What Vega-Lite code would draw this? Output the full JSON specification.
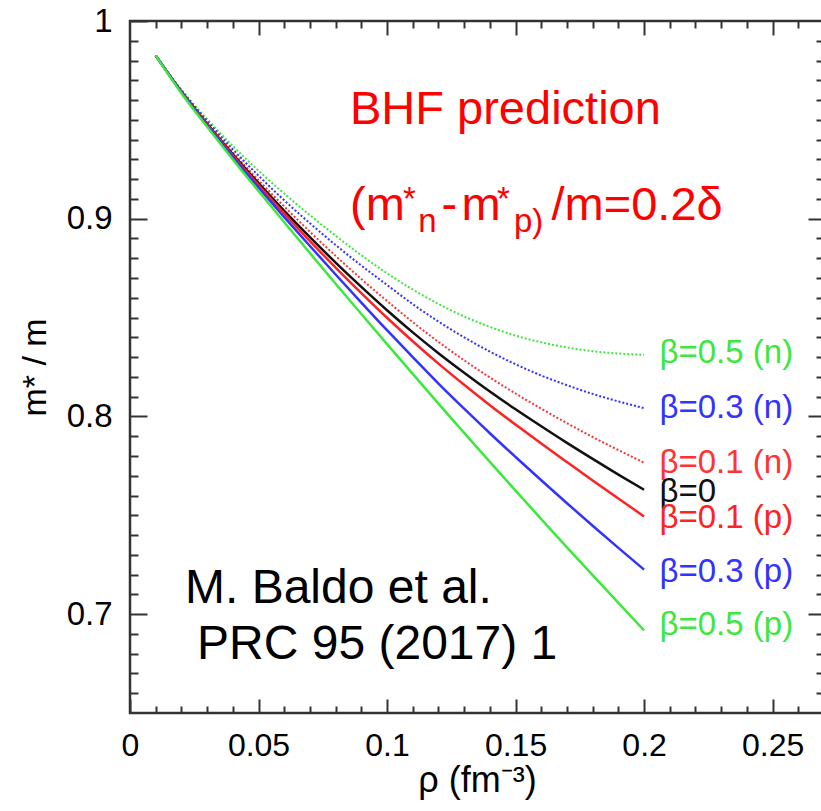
{
  "$schema": "https://vega.github.io/schema/vega-lite/v6.json",
  "width": 694,
  "height": 692,
  "autosize": "none",
  "padding": {"left": 130, "top": 21, "right": 0, "bottom": 98},
  "background": "white",
  "config": {
    "view": {"stroke": "#333", "strokeWidth": 2.5},
    "axis": {"domain": false, "grid": false, "tickColor": "#333", "tickWidth": 2, "labelColor": "#000", "titleColor": "#000", "titleFontWeight": "normal", "labelFlush": false, "labelOverlap": false}
  },
  "datasets": {
    "curves": [
      {"rho":0.01,"m":0.9825,"s":"0.5n"},{"rho":0.02,"m":0.9653,"s":"0.5n"},{"rho":0.03,"m":0.9504,"s":"0.5n"},{"rho":0.04,"m":0.9368,"s":"0.5n"},{"rho":0.05,"m":0.9243,"s":"0.5n"},{"rho":0.06,"m":0.9127,"s":"0.5n"},{"rho":0.07,"m":0.9018,"s":"0.5n"},{"rho":0.08,"m":0.8914,"s":"0.5n"},{"rho":0.09,"m":0.8815,"s":"0.5n"},{"rho":0.10,"m":0.8724,"s":"0.5n"},{"rho":0.11,"m":0.8642,"s":"0.5n"},{"rho":0.12,"m":0.8569,"s":"0.5n"},{"rho":0.13,"m":0.8506,"s":"0.5n"},{"rho":0.14,"m":0.8453,"s":"0.5n"},{"rho":0.15,"m":0.8409,"s":"0.5n"},{"rho":0.16,"m":0.8375,"s":"0.5n"},{"rho":0.17,"m":0.8349,"s":"0.5n"},{"rho":0.18,"m":0.8330,"s":"0.5n"},{"rho":0.19,"m":0.8318,"s":"0.5n"},{"rho":0.20,"m":0.8312,"s":"0.5n"},
      {"rho":0.01,"m":0.9825,"s":"0.3n"},{"rho":0.02,"m":0.9648,"s":"0.3n"},{"rho":0.03,"m":0.9494,"s":"0.3n"},{"rho":0.04,"m":0.9351,"s":"0.3n"},{"rho":0.05,"m":0.9218,"s":"0.3n"},{"rho":0.06,"m":0.9093,"s":"0.3n"},{"rho":0.07,"m":0.8977,"s":"0.3n"},{"rho":0.08,"m":0.8867,"s":"0.3n"},{"rho":0.09,"m":0.8763,"s":"0.3n"},{"rho":0.10,"m":0.8665,"s":"0.3n"},{"rho":0.11,"m":0.8568,"s":"0.3n"},{"rho":0.12,"m":0.8480,"s":"0.3n"},{"rho":0.13,"m":0.8400,"s":"0.3n"},{"rho":0.14,"m":0.8328,"s":"0.3n"},{"rho":0.15,"m":0.8264,"s":"0.3n"},{"rho":0.16,"m":0.8207,"s":"0.3n"},{"rho":0.17,"m":0.8158,"s":"0.3n"},{"rho":0.18,"m":0.8114,"s":"0.3n"},{"rho":0.19,"m":0.8076,"s":"0.3n"},{"rho":0.20,"m":0.8042,"s":"0.3n"},
      {"rho":0.01,"m":0.9825,"s":"0.1n"},{"rho":0.02,"m":0.9645,"s":"0.1n"},{"rho":0.03,"m":0.9486,"s":"0.1n"},{"rho":0.04,"m":0.9336,"s":"0.1n"},{"rho":0.05,"m":0.9195,"s":"0.1n"},{"rho":0.06,"m":0.9062,"s":"0.1n"},{"rho":0.07,"m":0.8934,"s":"0.1n"},{"rho":0.08,"m":0.8812,"s":"0.1n"},{"rho":0.09,"m":0.8695,"s":"0.1n"},{"rho":0.10,"m":0.8584,"s":"0.1n"},{"rho":0.11,"m":0.8477,"s":"0.1n"},{"rho":0.12,"m":0.8377,"s":"0.1n"},{"rho":0.13,"m":0.8284,"s":"0.1n"},{"rho":0.14,"m":0.8197,"s":"0.1n"},{"rho":0.15,"m":0.8116,"s":"0.1n"},{"rho":0.16,"m":0.8039,"s":"0.1n"},{"rho":0.17,"m":0.7966,"s":"0.1n"},{"rho":0.18,"m":0.7896,"s":"0.1n"},{"rho":0.19,"m":0.7830,"s":"0.1n"},{"rho":0.20,"m":0.7766,"s":"0.1n"},
      {"rho":0.01,"m":0.9825,"s":"0"},{"rho":0.02,"m":0.9643,"s":"0"},{"rho":0.03,"m":0.9480,"s":"0"},{"rho":0.04,"m":0.9326,"s":"0"},{"rho":0.05,"m":0.9180,"s":"0"},{"rho":0.06,"m":0.9040,"s":"0"},{"rho":0.07,"m":0.8907,"s":"0"},{"rho":0.08,"m":0.8778,"s":"0"},{"rho":0.09,"m":0.8655,"s":"0"},{"rho":0.10,"m":0.8537,"s":"0"},{"rho":0.11,"m":0.8425,"s":"0"},{"rho":0.12,"m":0.8320,"s":"0"},{"rho":0.13,"m":0.8221,"s":"0"},{"rho":0.14,"m":0.8126,"s":"0"},{"rho":0.15,"m":0.8036,"s":"0"},{"rho":0.16,"m":0.7950,"s":"0"},{"rho":0.17,"m":0.7866,"s":"0"},{"rho":0.18,"m":0.7785,"s":"0"},{"rho":0.19,"m":0.7706,"s":"0"},{"rho":0.20,"m":0.7629,"s":"0"},
      {"rho":0.01,"m":0.9825,"s":"0.1p"},{"rho":0.02,"m":0.9642,"s":"0.1p"},{"rho":0.03,"m":0.9477,"s":"0.1p"},{"rho":0.04,"m":0.9320,"s":"0.1p"},{"rho":0.05,"m":0.9170,"s":"0.1p"},{"rho":0.06,"m":0.9026,"s":"0.1p"},{"rho":0.07,"m":0.8887,"s":"0.1p"},{"rho":0.08,"m":0.8753,"s":"0.1p"},{"rho":0.09,"m":0.8624,"s":"0.1p"},{"rho":0.10,"m":0.8499,"s":"0.1p"},{"rho":0.11,"m":0.8380,"s":"0.1p"},{"rho":0.12,"m":0.8267,"s":"0.1p"},{"rho":0.13,"m":0.8160,"s":"0.1p"},{"rho":0.14,"m":0.8057,"s":"0.1p"},{"rho":0.15,"m":0.7959,"s":"0.1p"},{"rho":0.16,"m":0.7863,"s":"0.1p"},{"rho":0.17,"m":0.7769,"s":"0.1p"},{"rho":0.18,"m":0.7676,"s":"0.1p"},{"rho":0.19,"m":0.7585,"s":"0.1p"},{"rho":0.20,"m":0.7494,"s":"0.1p"},
      {"rho":0.01,"m":0.9825,"s":"0.3p"},{"rho":0.02,"m":0.9640,"s":"0.3p"},{"rho":0.03,"m":0.9472,"s":"0.3p"},{"rho":0.04,"m":0.9312,"s":"0.3p"},{"rho":0.05,"m":0.9158,"s":"0.3p"},{"rho":0.06,"m":0.9008,"s":"0.3p"},{"rho":0.07,"m":0.8862,"s":"0.3p"},{"rho":0.08,"m":0.8718,"s":"0.3p"},{"rho":0.09,"m":0.8576,"s":"0.3p"},{"rho":0.10,"m":0.8436,"s":"0.3p"},{"rho":0.11,"m":0.8300,"s":"0.3p"},{"rho":0.12,"m":0.8166,"s":"0.3p"},{"rho":0.13,"m":0.8039,"s":"0.3p"},{"rho":0.14,"m":0.7915,"s":"0.3p"},{"rho":0.15,"m":0.7795,"s":"0.3p"},{"rho":0.16,"m":0.7677,"s":"0.3p"},{"rho":0.17,"m":0.7561,"s":"0.3p"},{"rho":0.18,"m":0.7447,"s":"0.3p"},{"rho":0.19,"m":0.7335,"s":"0.3p"},{"rho":0.20,"m":0.7225,"s":"0.3p"},
      {"rho":0.01,"m":0.9825,"s":"0.5p"},{"rho":0.02,"m":0.9635,"s":"0.5p"},{"rho":0.03,"m":0.9465,"s":"0.5p"},{"rho":0.04,"m":0.9300,"s":"0.5p"},{"rho":0.05,"m":0.9140,"s":"0.5p"},{"rho":0.06,"m":0.8982,"s":"0.5p"},{"rho":0.07,"m":0.8826,"s":"0.5p"},{"rho":0.08,"m":0.8671,"s":"0.5p"},{"rho":0.09,"m":0.8518,"s":"0.5p"},{"rho":0.10,"m":0.8366,"s":"0.5p"},{"rho":0.11,"m":0.8215,"s":"0.5p"},{"rho":0.12,"m":0.8065,"s":"0.5p"},{"rho":0.13,"m":0.7917,"s":"0.5p"},{"rho":0.14,"m":0.7770,"s":"0.5p"},{"rho":0.15,"m":0.7625,"s":"0.5p"},{"rho":0.16,"m":0.7481,"s":"0.5p"},{"rho":0.17,"m":0.7338,"s":"0.5p"},{"rho":0.18,"m":0.7197,"s":"0.5p"},{"rho":0.19,"m":0.7057,"s":"0.5p"},{"rho":0.20,"m":0.6918,"s":"0.5p"}
    ],
    "labels": [
      {"label":"β=0.5 (n)","s":"0.5n","rho":0.206,"m":0.8321},
      {"label":"β=0.3 (n)","s":"0.3n","rho":0.206,"m":0.8043},
      {"label":"β=0.1 (n)","s":"0.1n","rho":0.206,"m":0.7764},
      {"label":"β=0","s":"0","rho":0.206,"m":0.7618},
      {"label":"β=0.1 (p)","s":"0.1p","rho":0.206,"m":0.7486},
      {"label":"β=0.3 (p)","s":"0.3p","rho":0.206,"m":0.7213},
      {"label":"β=0.5 (p)","s":"0.5p","rho":0.206,"m":0.6945}
    ],
    "bigRed": [
      {"t":"BHF prediction","rho":0.0856,"m":0.9479},
      {"t":"(m","rho":0.0856,"m":0.8993},
      {"t":"-","rho":0.1212,"m":0.8993},
      {"t":"m","rho":0.1290,"m":0.8993},
      {"t":"/m=0.2δ","rho":0.1640,"m":0.8993}
    ],
    "smallRed": [
      {"t":"*","rho":0.1062,"m":0.9044},
      {"t":"n","rho":0.1121,"m":0.8933},
      {"t":"*","rho":0.1428,"m":0.9044},
      {"t":"p)","rho":0.1494,"m":0.8933}
    ],
    "black": [
      {"t":"M. Baldo et al.","rho":0.0214,"m":0.7056},
      {"t":"PRC 95 (2017) 1","rho":0.0261,"m":0.6773}
    ]
  },
  "layer": [
    {
      "data": {"name": "curves"},
      "transform": [{"filter": "indexof(['0.5n','0.3n','0.1n'], datum.s) >= 0"}],
      "mark": {"type": "line", "strokeWidth": 2, "strokeDash": [2, 2], "interpolate": "monotone"},
      "encoding": {
        "x": {"field": "rho", "type": "quantitative", "scale": {"domain": [0, 0.27], "nice": false, "zero": false},
          "axis": {"orient": "bottom", "values": [0, 0.05, 0.1, 0.15, 0.2, 0.25], "labelExpr": "datum.value", "tickSize": -14, "labelPadding": 31, "labelFont": "Liberation Sans", "labelFontSize": 32, "title": "ρ (fm⁻³)", "titleFont": "Liberation Sans", "titleFontSize": 36, "titlePadding": 2}},
        "y": {"field": "m", "type": "quantitative", "scale": {"domain": [0.65, 1], "nice": false, "zero": false},
          "axis": {"orient": "left", "values": [0.7, 0.8, 0.9, 1], "labelExpr": "datum.value", "tickSize": -17, "labelPadding": 35, "labelFont": "Liberation Sans", "labelFontSize": 33, "title": "m* / m", "titleFont": "Liberation Sans", "titleFontSize": 34, "titlePadding": 14}},
        "color": {"field": "s", "type": "nominal", "legend": null,
          "scale": {"domain": ["0.5n","0.3n","0.1n","0","0.1p","0.3p","0.5p"], "range": ["#3de83d","#3333ff","#ff3333","#111111","#ff2222","#3333ff","#3de83d"]}},
        "detail": {"field": "s"}
      }
    },
    {
      "data": {"name": "curves"},
      "transform": [{"filter": "indexof(['0','0.1p','0.3p','0.5p'], datum.s) >= 0"}],
      "mark": {"type": "line", "strokeWidth": 2.5, "interpolate": "monotone"},
      "encoding": {
        "x": {"field": "rho", "type": "quantitative", "scale": {"domain": [0, 0.27], "nice": false, "zero": false},
          "axis": {"orient": "bottom", "values": [0.01,0.02,0.03,0.04,0.06,0.07,0.08,0.09,0.11,0.12,0.13,0.14,0.16,0.17,0.18,0.19,0.21,0.22,0.23,0.24,0.26], "labels": false, "tickSize": -7, "title": null}},
        "y": {"field": "m", "type": "quantitative", "scale": {"domain": [0.65, 1], "nice": false, "zero": false},
          "axis": {"orient": "left", "values": [0.66,0.67,0.68,0.69,0.71,0.72,0.73,0.74,0.75,0.76,0.77,0.78,0.79,0.81,0.82,0.83,0.84,0.85,0.86,0.87,0.88,0.89,0.91,0.92,0.93,0.94,0.95,0.96,0.97,0.98,0.99], "labels": false, "tickSize": -8, "title": null}},
        "color": {"field": "s", "type": "nominal", "legend": null},
        "detail": {"field": "s"}
      }
    },
    {
      "data": {"name": "labels"},
      "mark": {"type": "text", "align": "left", "baseline": "middle", "font": "Liberation Sans", "fontSize": 33},
      "encoding": {
        "x": {"field": "rho", "type": "quantitative", "scale": {"domain": [0, 0.27], "nice": false, "zero": false},
          "axis": {"orient": "top", "values": [0.05, 0.1, 0.15, 0.2, 0.25], "labels": false, "tickSize": -14, "title": null}},
        "y": {"field": "m", "type": "quantitative", "scale": {"domain": [0.65, 1], "nice": false, "zero": false},
          "axis": {"orient": "right", "values": [0.7, 0.8, 0.9], "labels": false, "tickSize": -16, "title": null}},
        "text": {"field": "label"},
        "color": {"field": "s", "type": "nominal", "legend": null}
      }
    },
    {
      "data": {"name": "bigRed"},
      "mark": {"type": "text", "align": "left", "baseline": "alphabetic", "font": "Liberation Sans", "fontSize": 47, "color": "#ff0000"},
      "encoding": {
        "x": {"field": "rho", "type": "quantitative", "scale": {"domain": [0, 0.27], "nice": false, "zero": false},
          "axis": {"orient": "top", "values": [0.01,0.02,0.03,0.04,0.06,0.07,0.08,0.09,0.11,0.12,0.13,0.14,0.16,0.17,0.18,0.19,0.21,0.22,0.23,0.24,0.26], "labels": false, "tickSize": -7, "title": null}},
        "y": {"field": "m", "type": "quantitative", "scale": {"domain": [0.65, 1], "nice": false, "zero": false},
          "axis": {"orient": "right", "values": [0.66,0.67,0.68,0.69,0.71,0.72,0.73,0.74,0.75,0.76,0.77,0.78,0.79,0.81,0.82,0.83,0.84,0.85,0.86,0.87,0.88,0.89,0.91,0.92,0.93,0.94,0.95,0.96,0.97,0.98,0.99], "labels": false, "tickSize": -8, "title": null}},
        "text": {"field": "t"}
      }
    },
    {
      "data": {"name": "smallRed"},
      "mark": {"type": "text", "align": "left", "baseline": "alphabetic", "font": "Liberation Sans", "fontSize": 33, "color": "#ff0000"},
      "encoding": {
        "x": {"field": "rho", "type": "quantitative", "scale": {"domain": [0, 0.27], "nice": false, "zero": false}, "axis": null},
        "y": {"field": "m", "type": "quantitative", "scale": {"domain": [0.65, 1], "nice": false, "zero": false}, "axis": null},
        "text": {"field": "t"}
      }
    },
    {
      "data": {"name": "black"},
      "mark": {"type": "text", "align": "left", "baseline": "alphabetic", "font": "Liberation Sans", "fontSize": 48, "color": "#000000"},
      "encoding": {
        "x": {"field": "rho", "type": "quantitative", "scale": {"domain": [0, 0.27], "nice": false, "zero": false}, "axis": null},
        "y": {"field": "m", "type": "quantitative", "scale": {"domain": [0.65, 1], "nice": false, "zero": false}, "axis": null},
        "text": {"field": "t"}
      }
    }
  ],
  "resolve": {"axis": {"x": "independent", "y": "independent"}}
}
